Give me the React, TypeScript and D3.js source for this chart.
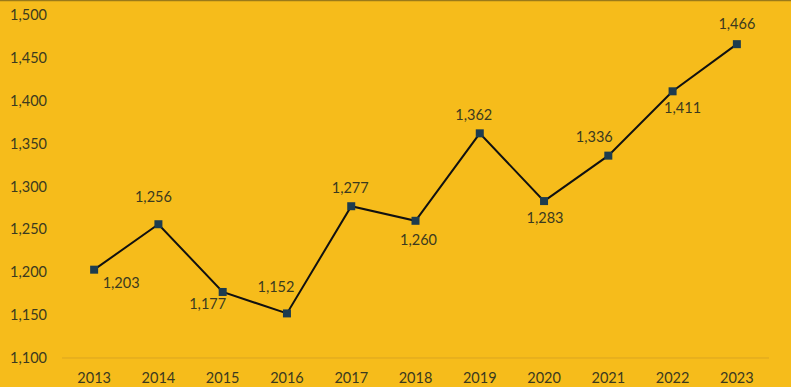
import * as d3 from "d3";

const years = ["2013", "2014", "2015", "2016", "2017", "2018", "2019", "2020", "2021", "2022", "2023"];
const values = [1203, 1256, 1177, 1152, 1277, 1260, 1362, 1283, 1336, 1411, 1466];
// label placement relative to the point: [dx, dy]
const labelOffsets: [number, number][] = [
	[27, 13], [-5, -27], [-15, 12], [-11, -26], [-1, -18], [3, 19], [-6, -18], [1, 17], [-14, -19], [10, 17], [0, -20],
];
const yTicks = [1100, 1150, 1200, 1250, 1300, 1350, 1400, 1450, 1500];

const width = 791;
const height = 387;
const margin = { top: 15, right: 22, bottom: 29, left: 62 };
const font = "Lato, 'Open Sans', sans-serif";
const textColor = "#3b3a1f";

export default function App() {
	const x = d3.scaleBand(years, [margin.left, width - margin.right]);
	const y = d3.scaleLinear([1100, 1500], [height - margin.bottom, margin.top]);
	const cx = (i: number) => x(years[i])! + x.bandwidth() / 2;
	const line = d3.line<number>().x((_, i) => cx(i)).y((d) => y(d));

	return (
		<svg
			width={width}
			height={height}
			style={{ position: "fixed", left: 0, top: 0, background: "#f6bc1b" }}
			fontFamily={font}
		>
			<rect width={width} height={height} fill="#f6bc1b" />
			<line x1={0} x2={width} y1={0.5} y2={0.5} stroke="#9a7a1a" strokeWidth={1.5} />
			<line x1={margin.left} x2={width - margin.right} y1={y(1100)} y2={y(1100)} stroke="#dba521" strokeWidth={1} />
			<g fontSize={14.5} fill={textColor} textAnchor="end">
				{yTicks.map((t) => (
					<text key={t} x={47} y={y(t)} dy="0.35em">{d3.format(",")(t)}</text>
				))}
			</g>
			<g fontSize={14.5} fill={textColor} textAnchor="middle">
				{years.map((yr) => (
					<text key={yr} x={x(yr)! + x.bandwidth() / 2} y={y(1100) + 20} dy="0.35em">{yr}</text>
				))}
			</g>
			<path d={line(values)!} fill="none" stroke="#111" strokeWidth={2} />
			<g fill="#1d3c4f">
				{values.map((v, i) => (
					<rect key={i} x={cx(i) - 4} y={y(v) - 4} width={8} height={8} />
				))}
			</g>
			<g fontSize={14.5} fill={textColor} textAnchor="middle">
				{values.map((v, i) => (
					<text key={i} x={cx(i) + labelOffsets[i][0]} y={y(v) + labelOffsets[i][1]} dy="0.35em">
						{d3.format(",")(v)}
					</text>
				))}
			</g>
		</svg>
	);
}
